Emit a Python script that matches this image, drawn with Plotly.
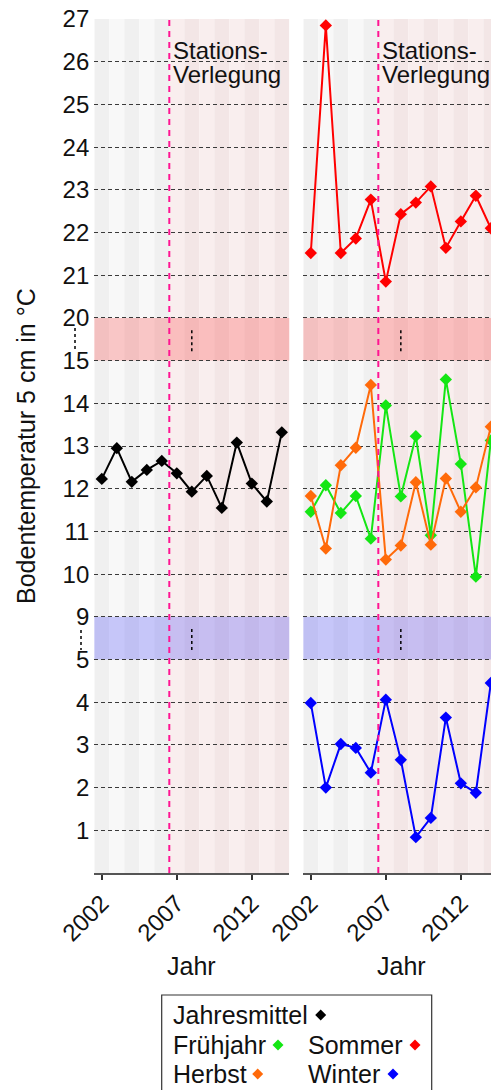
import plotly.graph_objects as go

# ---------------- data ----------------
years = list(range(2002, 2015))
jahresmittel = [12.23, 12.95, 12.16, 12.44, 12.65, 12.36, 11.93, 12.30, 11.55, 13.08, 12.12, 11.70, 13.32]
fruehjahr = [11.46, 12.08, 11.43, 11.83, 10.83, 13.95, 11.82, 13.23, 10.91, 14.56, 12.58, 9.94, 13.13]
sommer = [21.52, 26.85, 21.52, 21.86, 22.77, 20.85, 22.43, 22.70, 23.08, 21.64, 22.26, 22.86, 22.10]
herbst = [11.83, 10.60, 12.55, 12.96, 14.43, 10.34, 10.67, 12.15, 10.69, 12.24, 11.46, 12.03, 13.45]
winter = [3.98, 2.00, 3.02, 2.93, 2.35, 4.06, 2.65, 0.84, 1.29, 3.64, 2.10, 1.88, 4.45]

ytick_values = [1, 2, 3, 4, 5, 9, 10, 11, 12, 13, 14, 15, 20, 21, 22, 23, 24, 25, 26, 27]
xtick_years = [2002, 2007, 2012]
relocation_year = 2006.5
band_low = (5, 9)
band_high = (15, 20)

series = [
    ("Sommer", sommer, "#ff0000"),
    ("Frühjahr", fruehjahr, "#14e614"),
    ("Herbst", herbst, "#ff6a0a"),
    ("Winter", winter, "#0000ff"),
]

# broken-axis scale: real value -> display coordinate
def to_disp(v):
    if v <= 5:
        return v
    if v <= 15:
        return v - 3
    return v - 7

W, H = 491, 1090
def px(x):
    return x / W
def py(y):
    return 1 - y / H

FONT = "Liberation Sans, Arial, sans-serif"
fig = go.Figure()

fig.add_trace(go.Scatter(
    x=years, y=[to_disp(v) for v in jahresmittel], mode="lines+markers",
    line=dict(color="#000000", width=2), marker=dict(symbol="diamond", size=9.5, color="#000000"),
    xaxis="x", yaxis="y", showlegend=False, hoverinfo="skip"))

for name, vals, col in series:
    fig.add_trace(go.Scatter(
        x=years, y=[to_disp(v) for v in vals], mode="lines+markers",
        line=dict(color=col, width=2), marker=dict(symbol="diamond", size=9.5, color=col),
        xaxis="x2", yaxis="y2", showlegend=False, hoverinfo="skip"))

shapes = []
annotations = []
for xr, yr in (("x", "y"), ("x2", "y2")):
    # year stripes
    for i, yv in enumerate(years):
        before = yv < relocation_year
        if before:
            col = "#f0f0f0" if i % 2 == 0 else "#f8f8f8"
        else:
            col = "#f9eeee" if i % 2 == 1 else "#f3e6e6"
        shapes.append(dict(type="rect", xref=xr, yref=yr + " domain", x0=yv - 0.5, x1=yv + 0.5,
                           y0=0, y1=1, fillcolor=col, line=dict(width=0), layer="below"))
    # breaks
    for (lo, hi), c in ((band_low, "rgba(0,0,255,0.2)"), (band_high, "rgba(255,0,0,0.2)")):
        d0, d1 = to_disp(lo), to_disp(hi)
        shapes.append(dict(type="rect", xref=xr + " domain", yref=yr, x0=0, x1=1, y0=d0, y1=d1,
                           fillcolor=c, line=dict(width=0), layer="below"))
        shapes.append(dict(type="line", xref=xr, yref=yr, x0=2008, x1=2008,
                           y0=d0 + 0.22, y1=d0 + 0.78, line=dict(color="#000", width=1.5, dash="dot")))
    # relocation line
    shapes.append(dict(type="line", xref=xr, yref=yr + " domain", x0=relocation_year, x1=relocation_year,
                       y0=0, y1=1, line=dict(color="#ff1493", width=2, dash="6px,5px"), layer="above"))
    annotations.append(dict(xref=xr, yref="paper", x=relocation_year, xshift=2, y=py(50.5),
                            text="Stations-", showarrow=False, xanchor="left", yanchor="middle",
                            font=dict(size=24, color="#111", family=FONT)))
    annotations.append(dict(xref=xr, yref="paper", x=relocation_year, xshift=2, y=py(74.5),
                            text="Verlegung", showarrow=False, xanchor="left", yanchor="middle",
                            font=dict(size=24, color="#111", family=FONT)))

# axis break markers beside tick labels
shapes.append(dict(type="line", xref="paper", yref="paper", x0=px(75), x1=px(75), y0=py(328), y1=py(350),
                   line=dict(color="#000", width=1.5, dash="dot")))
shapes.append(dict(type="line", xref="paper", yref="paper", x0=px(81), x1=px(81), y0=py(630), y1=py(650),
                   line=dict(color="#000", width=1.5, dash="dot")))

# titles
annotations.append(dict(xref="paper", yref="paper", x=px(26), y=py(446), text="Bodentemperatur 5 cm in °C",
                        textangle=-90, showarrow=False, xanchor="center", yanchor="middle",
                        font=dict(size=25, color="#111", family=FONT)))
for cx in (191, 401):
    annotations.append(dict(xref="paper", yref="paper", x=px(cx), y=py(966), text="Jahr", showarrow=False,
                            xanchor="center", yanchor="middle", font=dict(size=25, color="#111", family=FONT)))

# legend box
shapes.append(dict(type="rect", xref="paper", yref="paper", x0=px(161.7), x1=px(431.7), y0=py(995), y1=py(1110),
                   line=dict(color="#333", width=1.2), fillcolor="rgba(0,0,0,0)"))
legend_items = [
    ("Jahresmittel", "#000000", 171, 1015, 320.7),
    ("Frühjahr", "#14e614", 171, 1045, 278),
    ("Sommer", "#ff0000", 306, 1045, 415),
    ("Herbst", "#ff6a0a", 171, 1074, 257.7),
    ("Winter", "#0000ff", 306, 1074, 393),
]
for label, col, tx, ty, dx in legend_items:
    annotations.append(dict(xref="paper", yref="paper", x=px(tx), y=py(ty), text=label, showarrow=False,
                            xanchor="left", yanchor="middle", font=dict(size=25, color="#111", family=FONT)))
    r = 5.5
    path = (f"M {px(dx - r)},{py(ty)} L {px(dx)},{py(ty - r)} L {px(dx + r)},{py(ty)} "
            f"L {px(dx)},{py(ty + r)} Z")
    shapes.append(dict(type="path", xref="paper", yref="paper", path=path, fillcolor=col, line=dict(width=0)))

ydisp_ticks = [to_disp(v) for v in ytick_values]
yaxis_common = dict(range=[0, 20], domain=[py(873), py(19)], tickvals=ydisp_ticks,
                    showgrid=True, gridcolor="#3a3a3a", gridwidth=1.1, griddash="4px,3px",
                    zeroline=False, showline=False, ticks="", fixedrange=True, automargin=False)
xaxis_common = dict(tickvals=xtick_years, ticktext=[str(t) for t in xtick_years], tickangle=-45,
                    showgrid=False, zeroline=False, showline=True, linecolor="#555", linewidth=1.5,
                    ticks="outside", ticklen=5, tickwidth=1.5, tickcolor="#333", automargin=False,
                    tickfont=dict(size=24, color="#111", family=FONT), fixedrange=True)

fig.update_layout(
    width=W, height=H, margin=dict(l=0, r=0, t=0, b=0, autoexpand=False),
    paper_bgcolor="white", plot_bgcolor="white",
    font=dict(family=FONT, size=24, color="#111"),
    xaxis=dict(domain=[px(94.3), px(289.3)], range=[2001.5, 2014.5], **xaxis_common),
    xaxis2=dict(domain=[px(303.3), 1.0], range=[2001.5, 2014.01], **xaxis_common),
    yaxis=dict(anchor="x", ticktext=[str(v) for v in ytick_values], showticklabels=True,
               tickfont=dict(size=24, color="#111", family=FONT), ticklabelstandoff=4, **yaxis_common),
    yaxis2=dict(anchor="x2", showticklabels=False, **yaxis_common),
    shapes=shapes, annotations=annotations, showlegend=False,
)

fig.write_html("out.html")
